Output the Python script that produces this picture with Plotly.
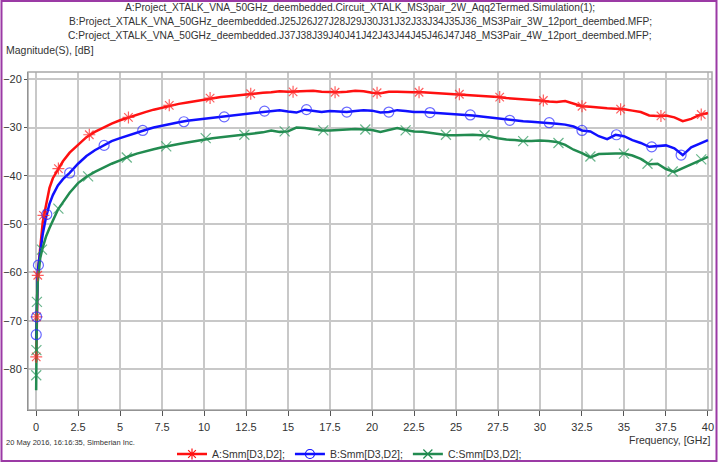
import plotly.graph_objects as go

# ---------------- data ----------------
freq = [0.005, 0.01, 0.02, 0.03, 0.05, 0.1, 0.15, 0.25, 0.4, 0.6, 0.8, 1.0, 1.3, 1.6, 2.0, 2.5,
        3.0, 3.5, 4.0, 4.5, 5.0, 5.5, 6.0, 6.5, 7.0, 7.5, 8.0, 8.5, 9.0, 9.5, 10.0, 10.5,
        11.0, 11.5, 12.0, 12.5, 13.0, 13.5, 14.0, 14.5, 15.0, 15.5, 16.0, 16.5, 17.0, 17.5,
        18.0, 18.5, 19.0, 19.5, 20.0, 20.5, 21.0, 21.5, 22.0, 22.5, 23.0, 23.5, 24.0, 24.5,
        25.0, 25.5, 26.0, 26.5, 27.0, 27.5, 28.0, 28.5, 29.0, 29.5, 30.0, 30.5, 31.0, 31.5,
        32.0, 32.5, 33.0, 33.5, 34.0, 34.5, 35.0, 35.5, 36.0, 36.5, 37.0, 37.5, 38.0, 38.5,
        39.0, 39.5, 40.0]

a_vals = [-78.5, -77.5, -72.5, -69.2, -65.5, -60.6, -58.5, -55.0, -49.5, -46.0, -42.5, -40.5,
          -38.6, -37.0, -35.2, -33.5, -32.0, -30.9, -30.0, -29.2, -28.5, -27.9, -27.3, -26.8,
          -26.3, -25.9, -25.4, -25.1, -24.8, -24.5, -24.2, -23.9, -23.7, -23.5, -23.3, -23.1,
          -23.0, -22.8, -22.7, -22.5, -22.6, -22.5, -22.4, -22.4, -22.6, -22.7, -22.7, -22.6,
          -22.4, -22.5, -22.8, -22.9, -22.6, -22.6, -22.7, -22.7, -22.7, -22.8, -22.9, -23.0,
          -23.1, -23.2, -23.3, -23.4, -23.5, -23.7, -23.9, -24.0, -24.1, -24.3, -24.4, -24.6,
          -24.7, -24.5, -25.0, -25.6, -25.7, -25.9, -26.0, -26.1, -26.2, -26.5, -26.8, -27.5,
          -27.6, -27.5, -27.9, -28.7, -28.2, -27.4, -27.0]

b_vals = [-74.0, -72.9, -70.5, -69.2, -65.0, -60.0, -58.3, -56.0, -52.0, -48.5, -45.8, -44.0,
          -42.0, -40.7, -39.4, -37.5, -35.9, -34.7, -33.7, -32.8, -32.2, -31.6, -31.0, -30.5,
          -30.0, -29.6, -29.2, -28.9, -28.6, -28.4, -28.2, -28.0, -27.8, -27.6, -27.3, -27.1,
          -26.9, -26.7, -26.5, -26.4, -26.7, -26.9, -26.3, -26.5, -26.8, -26.6, -26.7, -26.8,
          -26.6, -26.4, -26.5, -26.9, -26.8, -26.4, -26.6, -26.8, -26.8, -26.9, -27.1, -27.2,
          -27.2, -27.4, -27.5, -27.7, -27.9, -28.2, -28.4, -28.6, -28.7, -28.8, -28.9, -29.0,
          -29.2, -29.4, -29.8, -30.6, -30.8, -31.8, -32.4, -31.5, -31.8, -32.6, -33.2, -34.0,
          -33.9, -33.7, -34.3, -35.7, -34.1, -33.4, -32.6]

c_vals = [-84.4, -81.3, -76.1, -72.5, -66.1, -62.0, -60.0, -57.0, -54.8, -52.5, -50.8, -49.3,
          -47.0, -45.5, -43.5, -41.5, -40.2, -39.2, -38.3, -37.5, -36.8, -36.0, -35.4, -34.9,
          -34.5, -34.1, -33.7, -33.4, -33.1, -32.8, -32.4, -32.2, -32.0, -31.8, -31.6, -31.4,
          -31.2, -31.0, -30.6, -30.9, -30.8, -30.0, -30.1, -30.4, -30.6, -30.6, -30.5, -30.4,
          -30.3, -30.4, -30.5, -30.9, -30.5, -30.1, -30.5, -30.8, -30.9, -31.1, -31.3, -31.6,
          -31.6, -31.5, -31.5, -31.6, -31.8, -32.2, -32.5, -32.6, -32.8, -32.8, -32.7, -32.8,
          -33.0, -33.6, -34.6, -35.3, -36.2, -35.5, -35.4, -35.4, -35.4, -35.8, -36.5, -37.6,
          -37.5, -38.6, -39.2, -38.4, -37.6, -36.8, -36.1]

# marker positions
a_mk_f = [0.01, 0.03, 0.1, 0.44, 1.33, 3.17, 5.5, 7.93, 10.36, 12.78, 15.3, 17.8, 20.3, 22.8,
          25.2, 27.6, 30.2, 32.5, 34.8, 37.2, 39.6]
a_mk_v = [-77.5, -69.2, -60.6, -48.2, -38.5, -31.5, -27.9, -25.4, -23.9, -23.0, -22.6, -22.7,
          -22.8, -22.7, -23.1, -23.7, -24.4, -25.6, -26.2, -27.6, -27.3]
b_mk_f = [0.01, 0.03, 0.14, 0.64, 2.0, 4.05, 6.35, 8.8, 11.2, 13.6, 16.1, 18.5, 21.0, 23.45,
          25.85, 28.2, 30.55, 32.5, 34.55, 36.65, 38.4]
b_mk_v = [-72.9, -69.2, -58.5, -48.0, -39.4, -33.7, -30.6, -28.8, -27.8, -26.6, -26.3, -26.8,
          -26.8, -26.9, -27.4, -28.5, -29.0, -30.6, -31.5, -34.0, -35.7]
c_mk_f = [0.01, 0.02, 0.05, 0.35, 1.33, 3.1, 5.4, 7.75, 10.1, 12.4, 14.8, 17.1, 19.6, 22.0,
          24.4, 26.7, 29.0, 31.1, 33.0, 35.0, 36.4, 37.9, 39.6]
c_mk_v = [-81.3, -76.1, -66.1, -55.3, -46.8, -40.1, -36.2, -33.9, -32.2, -31.5, -30.8, -30.6,
          -30.4, -30.6, -31.5, -31.6, -32.8, -33.2, -36.0, -35.4, -37.5, -39.1, -36.6]

series_names = ["A:Smm[D3,D2];", "B:Smm[D3,D2];", "C:Smm[D3,D2];"]
x_ticks = [0, 2.5, 5, 7.5, 10, 12.5, 15, 17.5, 20, 22.5, 25, 27.5, 30, 32.5, 35, 37.5, 40]
x_tick_text = ["0", "2.5", "5", "7.5", "10", "12.5", "15", "17.5", "20", "22.5", "25", "27.5",
               "30", "32.5", "35", "37.5", "40"]
y_ticks = [-20, -30, -40, -50, -60, -70, -80]

title_lines = [
    "A:Project_XTALK_VNA_50GHz_deembedded.Circuit_XTALK_MS3pair_2W_Aqq2Termed.Simulation(1);",
    "B:Project_XTALK_VNA_50GHz_deembedded.J25J26J27J28J29J30J31J32J33J34J35J36_MS3Pair_3W_12port_deembed.MFP;",
    "C:Project_XTALK_VNA_50GHz_deembedded.J37J38J39J40J41J42J43J44J45J46J47J48_MS3Pair_4W_12port_deembed.MFP;",
]

# ---------------- styles ----------------
FONT = "Liberation Sans, Arial, sans-serif"
colors = ["#ff1010", "#1010ff", "#228b50"]
mk_colors = ["rgba(255,40,40,0.75)", "rgba(40,40,255,0.7)", "rgba(40,150,90,0.7)"]
symbols = ["asterisk-open", "circle-open", "x-thin-open"]
W, H = 719, 462
ML, MR, MT, MB = 28, 7, 72, 52
PW, PH = W - ML - MR, H - MT - MB

fig = go.Figure()
vals = [a_vals, b_vals, c_vals]
mks = [(a_mk_f, a_mk_v), (b_mk_f, b_mk_v), (c_mk_f, c_mk_v)]
for i in range(3):
    fig.add_trace(go.Scatter(x=freq, y=vals[i], mode="lines",
                             line=dict(color=colors[i], width=2.5), showlegend=False,
                             name=series_names[i]))
for i in range(3):
    fig.add_trace(go.Scatter(x=mks[i][0], y=mks[i][1], mode="markers",
                             marker=dict(symbol=symbols[i], size=10, color=mk_colors[i],
                                         line=dict(width=1.2, color=mk_colors[i])),
                             showlegend=False, name=series_names[i]))
for i in range(3):
    fig.add_trace(go.Scatter(x=[None], y=[None], mode="lines+markers", name=series_names[i],
                             line=dict(color=colors[i], width=2.5),
                             marker=dict(symbol=symbols[i], size=9, color=colors[i],
                                         line=dict(width=1.2, color=colors[i]))))

def px_x(px):
    return (px - ML) / PW

def px_y(py):
    return (H - MB - py) / PH

annotations = []
for k, t in enumerate(title_lines):
    annotations.append(dict(text=t, xref="paper", yref="paper", x=px_x(360), y=px_y(8 + 14 * k),
                            xanchor="center", yanchor="middle", showarrow=False,
                            font=dict(family=FONT, size=10.2, color="#333333")))
annotations.append(dict(text="Magnitude(S), [dB]", xref="paper", yref="paper", x=px_x(4),
                        y=px_y(50), xanchor="left", yanchor="middle", showarrow=False,
                        font=dict(family=FONT, size=10.5, color="#333333")))
annotations.append(dict(text="Frequency, [GHz]", xref="paper", yref="paper", x=px_x(713),
                        y=px_y(440), xanchor="right", yanchor="middle", showarrow=False,
                        font=dict(family=FONT, size=10.5, color="#333333")))
annotations.append(dict(text="20 May 2016, 16:16:35, Simberian Inc.", xref="paper", yref="paper",
                        x=px_x(4), y=px_y(442), xanchor="left", yanchor="middle", showarrow=False,
                        font=dict(family=FONT, size=7.5, color="#333333")))

shapes = [
    dict(type="rect", xref="paper", yref="paper", x0=px_x(1.5), x1=px_x(716.5), y0=px_y(461),
         y1=px_y(1), line=dict(color="#9b3aa5", width=2)),
    dict(type="rect", xref="paper", yref="paper", x0=0, x1=1, y0=0, y1=1,
         line=dict(color="#a8a8a8", width=1.5)),
]

fig.update_layout(
    width=W, height=H,
    margin=dict(l=ML, r=MR, t=MT, b=MB, autoexpand=False),
    paper_bgcolor="white", plot_bgcolor="white",
    font=dict(family=FONT, size=11, color="#333333"),
    annotations=annotations, shapes=shapes,
    legend=dict(orientation="h", x=px_x(172), y=px_y(454), xanchor="left", yanchor="middle",
                font=dict(family=FONT, size=10.5, color="#333333"), bgcolor="rgba(0,0,0,0)",
                itemwidth=30),
    xaxis=dict(range=[-0.48, 40.24], tickvals=x_ticks, ticktext=x_tick_text,
               showgrid=True, gridcolor="#c8c8c8", gridwidth=1.5, zeroline=False,
               ticks="outside", ticklen=5, tickcolor="#555555", tickwidth=1,
               ticklabelstandoff=2,
               showline=True, linecolor="#555555", linewidth=1,
               tickfont=dict(family=FONT, size=11, color="#333333")),
    yaxis=dict(range=[-88.5, -18.5], tickvals=y_ticks,
               showgrid=True, gridcolor="#c8c8c8", gridwidth=1.5, zeroline=False,
               ticks="outside", ticklen=3, tickcolor="#555555",
               showline=True, linecolor="#555555", linewidth=1,
               tickfont=dict(family=FONT, size=11, color="#333333")),
)

fig.write_html("out.html")
